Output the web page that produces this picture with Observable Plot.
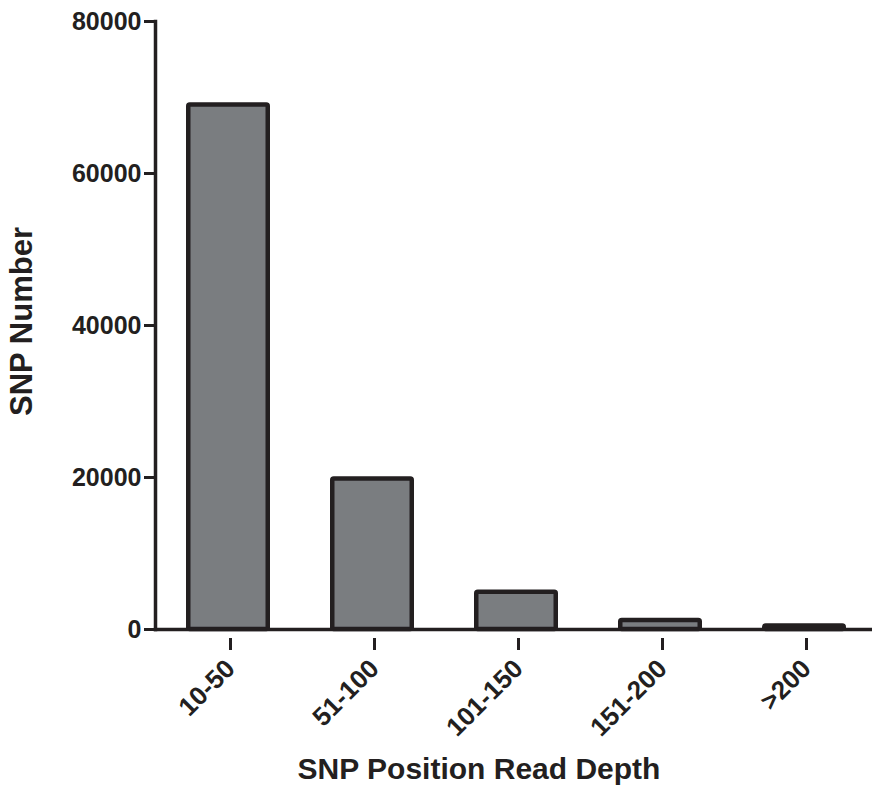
<!DOCTYPE html>
<html>
<head>
<meta charset="utf-8">
<script src="https://cdn.jsdelivr.net/npm/d3@7"></script>
<script src="https://cdn.jsdelivr.net/npm/@observablehq/plot@0.6"></script>
<style>
  html, body { margin: 0; padding: 0; background: #fff; }
  #chart svg { display: block; }
</style>
</head>
<body>
<div id="chart"></div>
<script>
const categories = ["10-50", "51-100", "101-150", "151-200", ">200"];
const counts = [69000, 19800, 4900, 1200, 450];
const yTicks = [0, 20000, 40000, 60000, 80000];
const xTitle = "SNP Position Read Depth";
const yTitle = "SNP Number";

const data = categories.map((c, i) => ({category: c, count: counts[i]}));

const ink = "#231f20";
const font = "'Liberation Sans', Arial, Helvetica, sans-serif";

const chart = Plot.plot({
  width: 872,
  height: 788,
  marginLeft: 155,
  marginRight: 0,
  marginTop: 21,
  marginBottom: 159,
  style: {fontFamily: font, fontWeight: "bold", color: ink, background: "#fff"},
  x: {domain: categories, paddingInner: 0.42, paddingOuter: 0.215, range: [155, 877]},
  y: {domain: [0, 80000]},
  marks: [
    Plot.barY(data, {
      x: "category", y: "count",
      fill: "#7a7d80", stroke: ink, strokeWidth: 4.5,
      insetLeft: 2.25, insetRight: 2.25, rx: 1.5
    }),
    Plot.frame({anchor: "left", stroke: ink, strokeWidth: 3.5}),
    Plot.frame({anchor: "bottom", stroke: ink, strokeWidth: 3.5}),
    Plot.axisY({
      ticks: yTicks, tickFormat: d3.format("d"),
      tickSize: 11, tickPadding: 3, fontSize: 25, strokeWidth: 3,
      stroke: ink, fill: ink, label: null
    }),
    Plot.axisX({
      tickSize: 12, tickPadding: 14, tickRotate: -45, fontSize: 26,
      strokeWidth: 3, stroke: ink, fill: ink, label: null,
      dx: 2, dy: 9
    }),
    Plot.text([xTitle], {
      text: d => d, frameAnchor: "bottom", dx: -35, dy: 149,
      fontSize: 30, fontWeight: "bold", fill: ink
    }),
    Plot.text([yTitle], {
      text: d => d, frameAnchor: "left", textAnchor: "middle", rotate: -90,
      dx: -133, dy: -4,
      fontSize: 31, fontWeight: "bold", fill: ink
    })
  ]
});

document.getElementById("chart").appendChild(chart);
</script>
</body>
</html>
